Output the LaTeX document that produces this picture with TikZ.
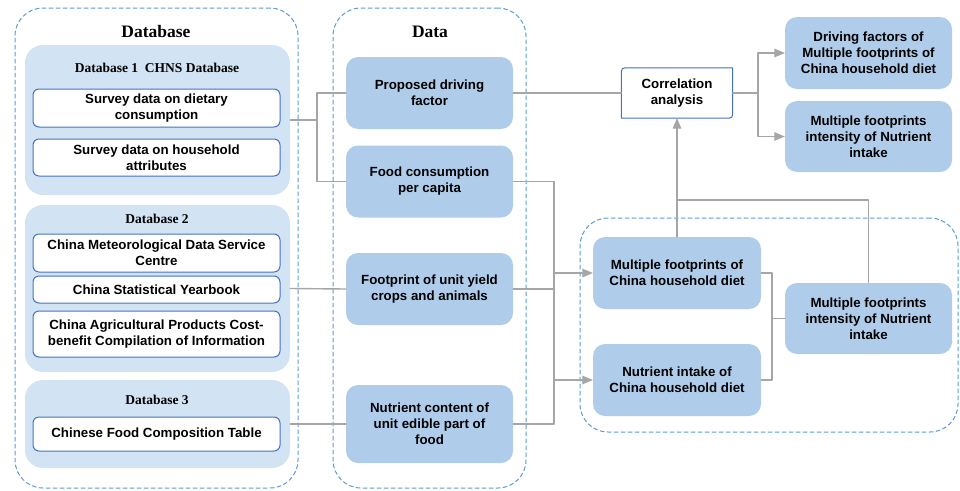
\documentclass[tikz,border=0pt]{standalone}
\usepackage{fontspec}
\setmainfont{Liberation Sans}
\newfontfamily\titlefont{Liberation Serif}
\usetikzlibrary{arrows}

\definecolor{dashblue}{HTML}{5B9BD5}
\definecolor{panelblue}{HTML}{D2E3F3}
\definecolor{nodeblue}{HTML}{AFCDEA}
\definecolor{boxblue}{HTML}{4472C4}
\definecolor{linegray}{HTML}{A6A6A6}

\tikzset{
  frame/.style={draw=dashblue, line width=1pt, dash pattern=on 4pt off 3pt, rounded corners=28pt, inner sep=0pt},
  panel/.style={fill=panelblue, rounded corners=18pt, inner sep=0pt, minimum width=265pt},
  source/.style={draw=boxblue, fill=white, line width=1pt, rounded corners=6pt, inner sep=0pt,
    minimum width=247pt, align=center, font=\bfseries\fontsize{13.3}{16}\selectfont},
  datum/.style={fill=nodeblue, rounded corners=12pt, inner sep=0pt, minimum width=167pt,
    minimum height=72pt, align=center, font=\bfseries\fontsize{13.3}{16}\selectfont},
  head/.style={font=\titlefont\bfseries\fontsize{17.5}{20}\selectfont},
  subhead/.style={font=\titlefont\bfseries\fontsize{13.5}{15}\selectfont},
  link/.style={draw=linegray, line width=1.4pt},
  arrow/.style={link, ->},
}

\begin{document}
\begin{tikzpicture}[line cap=round,line join=round,>=triangle 45,x=1pt,y=-1pt]
\useasboundingbox (0,0) rectangle (960,490);
% dashed groups
\node[frame, minimum width=283pt, minimum height=480pt] (dbframe) at (156.5,248) {};
\node[frame, minimum width=193pt, minimum height=480pt] (dataframe) at (429.5,248) {};
\node[frame, minimum width=378pt, minimum height=214pt] (resframe) at (769,325) {};
\node[head] (dbtitle) at (156,32) {Database};
\node[head] (datatitle) at (430,32) {Data};
% database panels
\node[panel, minimum height=150pt] (db1) at (157.5,120) {};
\node[panel, minimum height=167pt] (db2) at (157.5,288.5) {};
\node[panel, minimum height=88pt] (db3) at (157.5,424) {};
\node[subhead] (db1title) at (157,68) {Database 1\ \ CHNS Database};
\node[subhead] (db2title) at (157,219) {Database 2};
\node[subhead] (db3title) at (157,400) {Database 3};
\node[source, minimum height=38pt] (dietary) at (156.5,108) {Survey data on dietary\\consumption};
\node[source, minimum height=37pt] (attrib) at (156.5,157.5) {Survey data on household\\attributes};
\node[source, minimum height=38pt] (meteo) at (156.5,253) {China Meteorological Data Service\\Centre};
\node[source, minimum height=27pt] (yearbook) at (156.5,289.5) {China Statistical Yearbook};
\node[source, minimum height=46pt] (agri) at (156.5,334) {China Agricultural Products Cost-\\benefit Compilation of Information};
\node[source, minimum height=34pt] (foodtab) at (156.5,434) {Chinese Food Composition Table};
% data
\node[datum] (propose) at (429.5,93) {Proposed driving\\factor};
\node[datum] (consume) at (429.5,181.5) {Food consumption\\per capita};
\node[datum] (footprint) at (429.5,289) {Footprint of unit yield\\crops and animals};
\node[datum, minimum height=78pt] (nutcont) at (429.5,424) {Nutrient content of\\unit edible part of\\food};
% results
\node[inner sep=0pt, minimum width=111pt, minimum height=50pt, align=center,
  font=\bfseries\fontsize{13.3}{16}\selectfont] (corr) at (677,93) {Correlation\\analysis};
\draw[draw=boxblue, line width=1pt] (corr.north east) -- ([xshift=8pt]corr.north west)
  .. controls (corr.north west) .. ([yshift=-8pt]corr.north west) -- (corr.south west)
  -- ([xshift=-8pt]corr.south east) .. controls (corr.south east) .. ([yshift=8pt]corr.south east) -- cycle;
\node[datum] (drive) at (868.5,53) {Driving factors of\\Multiple footprints of\\China household diet};
\node[datum, minimum height=71pt] (intens1) at (868.5,136.5) {Multiple footprints\\intensity of Nutrient\\intake};
\node[datum, minimum width=168pt] (mfoot) at (677,273) {Multiple footprints of\\China household diet};
\node[datum, minimum width=168pt] (nintake) at (677,380) {Nutrient intake of\\China household diet};
\node[datum, minimum height=71pt] (intens2) at (868.5,318.5) {Multiple footprints\\intensity of Nutrient\\intake};
% connectors
\coordinate (j1) at (317,120);
\coordinate (bus) at (554,0);
\coordinate (j2) at (772,318.5);
\coordinate (j3) at (758,93);
\coordinate (top) at (677,200);
\draw[link] (db1.east) -- (j1);
\draw[link] (propose.west) -| (j1) |- (consume.west);
\draw[link] (db2.east) -- (footprint.west);
\draw[link] (db3.east) -- (nutcont.west);
\draw[link] (propose.east) -- (corr.west);
\draw[link] (consume.east) -| (bus |- nutcont.east) -- (nutcont.east);
\draw[link] (footprint.east) -- (bus |- footprint.east);
\draw[arrow] (bus |- mfoot.west) -- (mfoot.west);
\draw[arrow] (bus |- nintake.west) -- (nintake.west);
\draw[link] (mfoot.east) -| (j2) |- (nintake.east);
\draw[link] (j2) -- (intens2.west);
\draw[link] (intens2.north) |- (top);
\draw[arrow] (mfoot.north) -- (corr.south);
\draw[link] (corr.east) -- (j3);
\draw[arrow] (j3) |- (drive.west);
\draw[arrow] (j3) |- (intens1.west);
\end{tikzpicture}
\end{document}
